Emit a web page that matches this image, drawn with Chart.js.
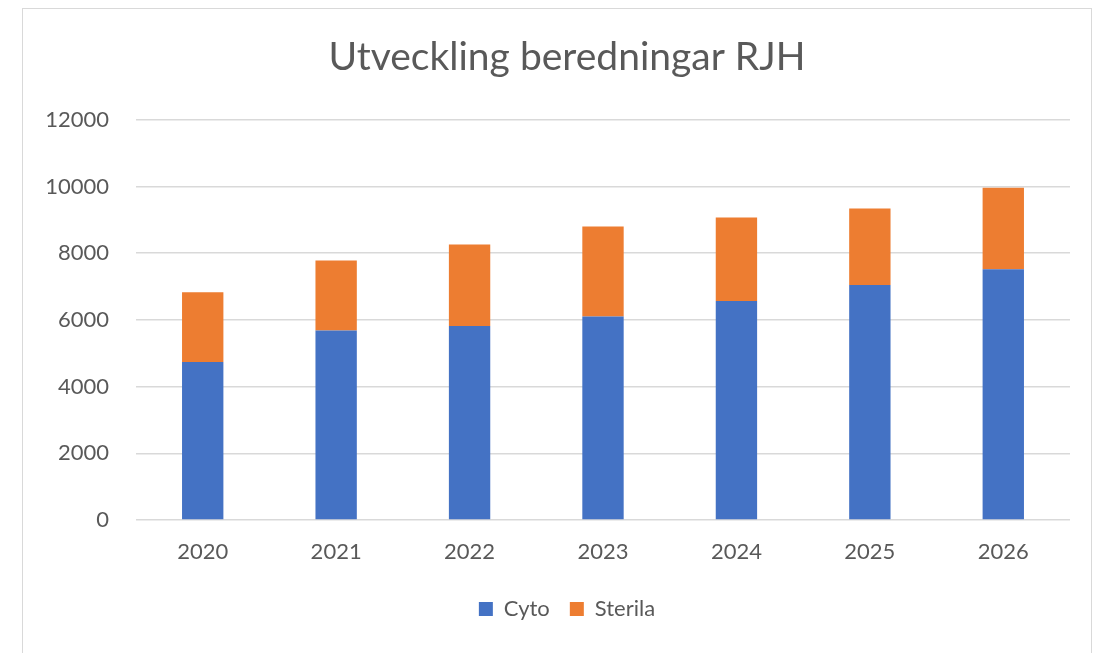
<!DOCTYPE html>
<html>
<head>
<meta charset="utf-8">
<script src="https://cdn.jsdelivr.net/npm/chart.js@4"></script>
<style>
  html, body { margin: 0; padding: 0; background: #fff; overflow: hidden; }
  #frame { position: absolute; left: 22px; top: 8px; width: 1070px; height: 700px;
           border: 1.5px solid #d9d9d9; box-sizing: border-box; }
  #wrap { position: absolute; left: 0; top: 0; width: 1112px; height: 653px; }
</style>
</head>
<body>
<div id="frame"></div>
<div id="wrap"><canvas id="c" width="1112" height="653"></canvas></div>
<script>
const years = ['2020', '2021', '2022', '2023', '2024', '2025', '2026'];
const cyto = [4740, 5680, 5820, 6100, 6570, 7050, 7520];
const sterila = [2090, 2100, 2440, 2700, 2500, 2290, 2440];
const yTicks = [0, 2000, 4000, 6000, 8000, 10000, 12000];

const FONT = 'Lato, "Liberation Sans", sans-serif';
const GREY = '#595959';

// Linear scale whose tick labels are not clipped to the scale box
class FreeLinear extends Chart.LinearScale {
  _computeLabelArea() { return undefined; }
}
FreeLinear.id = 'freeLinear';
FreeLinear.defaults = Chart.LinearScale.defaults;
Chart.register(FreeLinear);

new Chart(document.getElementById('c'), {
  type: 'bar',
  data: {
    labels: years,
    datasets: [
      { label: 'Cyto', data: cyto, backgroundColor: '#4472C4', borderWidth: 0 },
      { label: 'Sterila', data: sterila, backgroundColor: '#ED7D31', borderWidth: 0 }
    ]
  },
  options: {
    responsive: false,
    animation: false,
    devicePixelRatio: 1,
    layout: { padding: { left: 64, right: 42, top: 0, bottom: 23 } },
    datasets: { bar: { barPercentage: 0.31, categoryPercentage: 1.0 } },
    plugins: {
      title: {
        display: true,
        text: 'Utveckling beredningar RJH',
        color: GREY,
        font: { family: FONT, size: 39, weight: 'normal' },
        padding: { top: 34, bottom: 39 }
      },
      legend: {
        position: 'bottom',
        labels: {
          color: GREY,
          font: { family: FONT, size: 22 },
          boxWidth: 14,
          boxHeight: 14,
          padding: 20
        }
      },
      tooltip: { enabled: false }
    },
    scales: {
      x: {
        stacked: true,
        grid: { display: false },
        border: { display: false },
        ticks: { color: GREY, font: { family: FONT, size: 22 }, padding: 11 },
        afterFit: (s) => { s.height = 58; }
      },
      y: {
        type: 'freeLinear',
        stacked: true,
        min: 0,
        max: 12000,
        afterBuildTicks: (s) => { s.ticks = yTicks.map(v => ({ value: v })); },
        grid: { color: '#d9d9d9', lineWidth: 1.5, drawTicks: false },
        border: { display: false },
        ticks: {
          color: GREY,
          font: { family: FONT, size: 22 },
          padding: 27,
          callback: (v) => String(v)
        },
        afterFit: (s) => { s.width = 72; }
      }
    }
  }
});
</script>
</body>
</html>
